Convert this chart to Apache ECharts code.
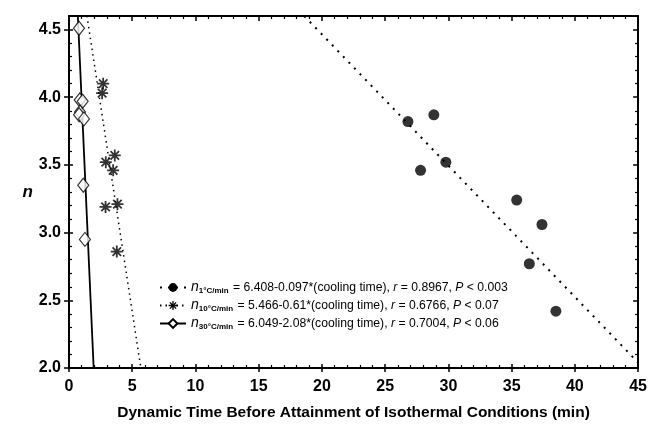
<!DOCTYPE html>
<html><head><meta charset="utf-8">
<script src="https://cdn.jsdelivr.net/npm/echarts@6/dist/echarts.min.js"></script>
<style>html,body{margin:0;padding:0;background:#fff}#c{width:650px;height:426px}</style>
</head><body><div id="c"></div>
<script>
// Cooling rate 1 °C/min (filled circles)
const rate1 = [[26.8,3.82],[28.85,3.87],[27.8,3.46],[29.8,3.52],[35.4,3.24],[37.4,3.06],[36.4,2.77],[38.5,2.42]];
// Cooling rate 10 °C/min (asterisks)
const rate10 = [[2.70,4.10],[2.62,4.03],[3.62,3.57],[2.91,3.52],[3.49,3.46],[3.83,3.21],[2.89,3.19],[3.78,2.86]];
// Cooling rate 30 °C/min (open diamonds)
const rate30 = [[0.79,4.51],[0.85,3.98],[1.08,3.97],[0.87,3.89],[0.80,3.87],[1.18,3.84],[1.13,3.35],[1.26,2.95]];
// Regression line endpoints
const fit1 = [[18.6,4.6],[45,2.04]];
const fit10 = [[1.42,4.6],[5.68,2.0]];
const fit30 = [[0.70,4.6],[1.95,2.0]];
const xTicks = {min:0, max:45, interval:5};
const yTicks = {min:2.0, max:4.6, interval:0.5};
const legendText = {
  a: ['1°C/min', ' = 6.408-0.097*(cooling time), ', '0.8967', '0.003'],
  b: ['10°C/min', ' = 5.466-0.61*(cooling time), ', '0.6766', '0.07'],
  c: ['30°C/min', ' = 6.049-2.08*(cooling time), ', '0.7004', '0.06']
};

const star = 'path://M0 8.5L20 8.5L20 11.5L0 11.5Z M8.5 0L11.5 0L11.5 20L8.5 20Z M3.96 1.84L18.16 16.04L16.04 18.16L1.84 3.96Z M16.04 1.84L18.16 3.96L3.96 18.16L1.84 16.04Z';
const FONT = 'Liberation Sans, Arial, sans-serif';
const chart = echarts.init(document.getElementById('c'), null, {renderer:'canvas'});

function xAx(extra){ return Object.assign({type:'value', min:xTicks.min, max:xTicks.max, interval:xTicks.interval,
  splitLine:{show:false}, axisLine:{show:true, onZero:false, lineStyle:{color:'#000', width:2}}, axisLabel:{show:false}}, extra); }
function yAx(extra){ return Object.assign({type:'value', min:yTicks.min, max:yTicks.max, interval:yTicks.interval,
  splitLine:{show:false}, axisLine:{show:true, onZero:false, lineStyle:{color:'#000', width:2}}, axisLabel:{show:false}}, extra); }

const option = {
  animation:false,
  backgroundColor:'#fff',
  grid:{left:69, right:9, top:16, bottom:53},
  xAxis:[
    xAx({position:'bottom', axisTick:{show:true, inside:false, length:4, lineStyle:{color:'#000', width:1.5}},
      axisLabel:{show:true, color:'#000', fontFamily:FONT, fontWeight:'bold', fontSize:16, margin:11},
      name:'Dynamic Time Before Attainment of Isothermal Conditions (min)', nameLocation:'middle', nameGap:37,
      nameTextStyle:{color:'#000', fontFamily:FONT, fontWeight:'bold', fontSize:15.5}}),
    xAx({position:'bottom', axisTick:{show:true, inside:true, length:4, lineStyle:{color:'#000', width:1.5}},
      minorTick:{show:true, splitNumber:5, length:3, lineStyle:{color:'#000', width:1.2}}}),
    xAx({position:'top', axisTick:{show:true, inside:true, length:5, lineStyle:{color:'#000', width:1.5}},
      minorTick:{show:true, splitNumber:5, length:3, lineStyle:{color:'#000', width:1.2}}})
  ],
  yAxis:[
    yAx({position:'left', axisTick:{show:true, inside:false, length:5, lineStyle:{color:'#000', width:1.5}},
      axisLabel:{show:true, color:'#000', fontFamily:FONT, fontWeight:'bold', fontSize:16, margin:8,
        formatter:v=>v.toFixed(1)},
      name:'n', nameLocation:'middle', nameGap:36, nameRotate:0,
      nameTextStyle:{color:'#000', fontFamily:FONT, fontWeight:'bold', fontStyle:'italic', fontSize:17, padding:[8,0,0,0]}}),
    yAx({position:'left', axisTick:{show:true, inside:true, length:4, lineStyle:{color:'#000', width:1.5}},
      minorTick:{show:true, splitNumber:5, length:3, lineStyle:{color:'#000', width:1.2}}}),
    yAx({position:'right', axisTick:{show:true, inside:true, length:5, lineStyle:{color:'#000', width:1.5}},
      minorTick:{show:true, splitNumber:5, length:3, lineStyle:{color:'#000', width:1.2}}})
  ],
  legend:{
    show:true, orient:'vertical', left:154, top:275, itemGap:3, itemWidth:26, itemHeight:11,
    data:['a','b','c'],
    formatter:function(name){
      const t = legendText[name];
      return '{n|n}{s|' + t[0] + '}{t|' + t[1] + '}{i|r}{t| = ' + t[2] + ', }{i|P}{t| < ' + t[3] + '}';
    },
    textStyle:{color:'#000', fontFamily:FONT, fontSize:12.2,
      rich:{
        n:{fontFamily:FONT, fontStyle:'italic', fontSize:14, lineHeight:15, color:'#000'},
        s:{fontFamily:FONT, fontWeight:'bold', fontSize:8, lineHeight:9, padding:[7,1,0,0], color:'#000'},
        t:{fontFamily:FONT, fontSize:12.2, lineHeight:15, color:'#000'},
        i:{fontFamily:FONT, fontStyle:'italic', fontSize:12.2, lineHeight:15, color:'#000'}
      }
    }
  },
  series:[
    {name:'a', type:'line', data:fit1, showSymbol:false, symbol:'circle', symbolSize:10, silent:true,
      itemStyle:{color:'#000'}, lineStyle:{color:'#000', width:2, type:[2,6]}, z:2},
    {name:'b', type:'line', data:fit10, showSymbol:false, symbol:star, symbolSize:10, silent:true,
      itemStyle:{color:'#000'}, lineStyle:{color:'#000', width:1.5, type:[1.5,4]}, z:2},
    {name:'c', type:'line', data:fit30, showSymbol:false, symbol:'diamond', symbolSize:10, silent:true,
      itemStyle:{color:'#fff', borderColor:'#000', borderWidth:1}, lineStyle:{color:'#000', width:1.8}, z:2},
    {name:'a', type:'scatter', data:rate1, symbol:'circle', symbolSize:11, itemStyle:{color:'#000'}, z:3},
    {name:'b', type:'scatter', data:rate10, symbol:star, symbolSize:12, itemStyle:{color:'#000'}, z:3},
    {name:'c', type:'scatter', data:rate30, symbol:'diamond', symbolSize:[11,14], itemStyle:{color:'#fff', borderColor:'#000', borderWidth:1.2}, z:3}
  ]
};
chart.setOption(option);
</script></body></html>
